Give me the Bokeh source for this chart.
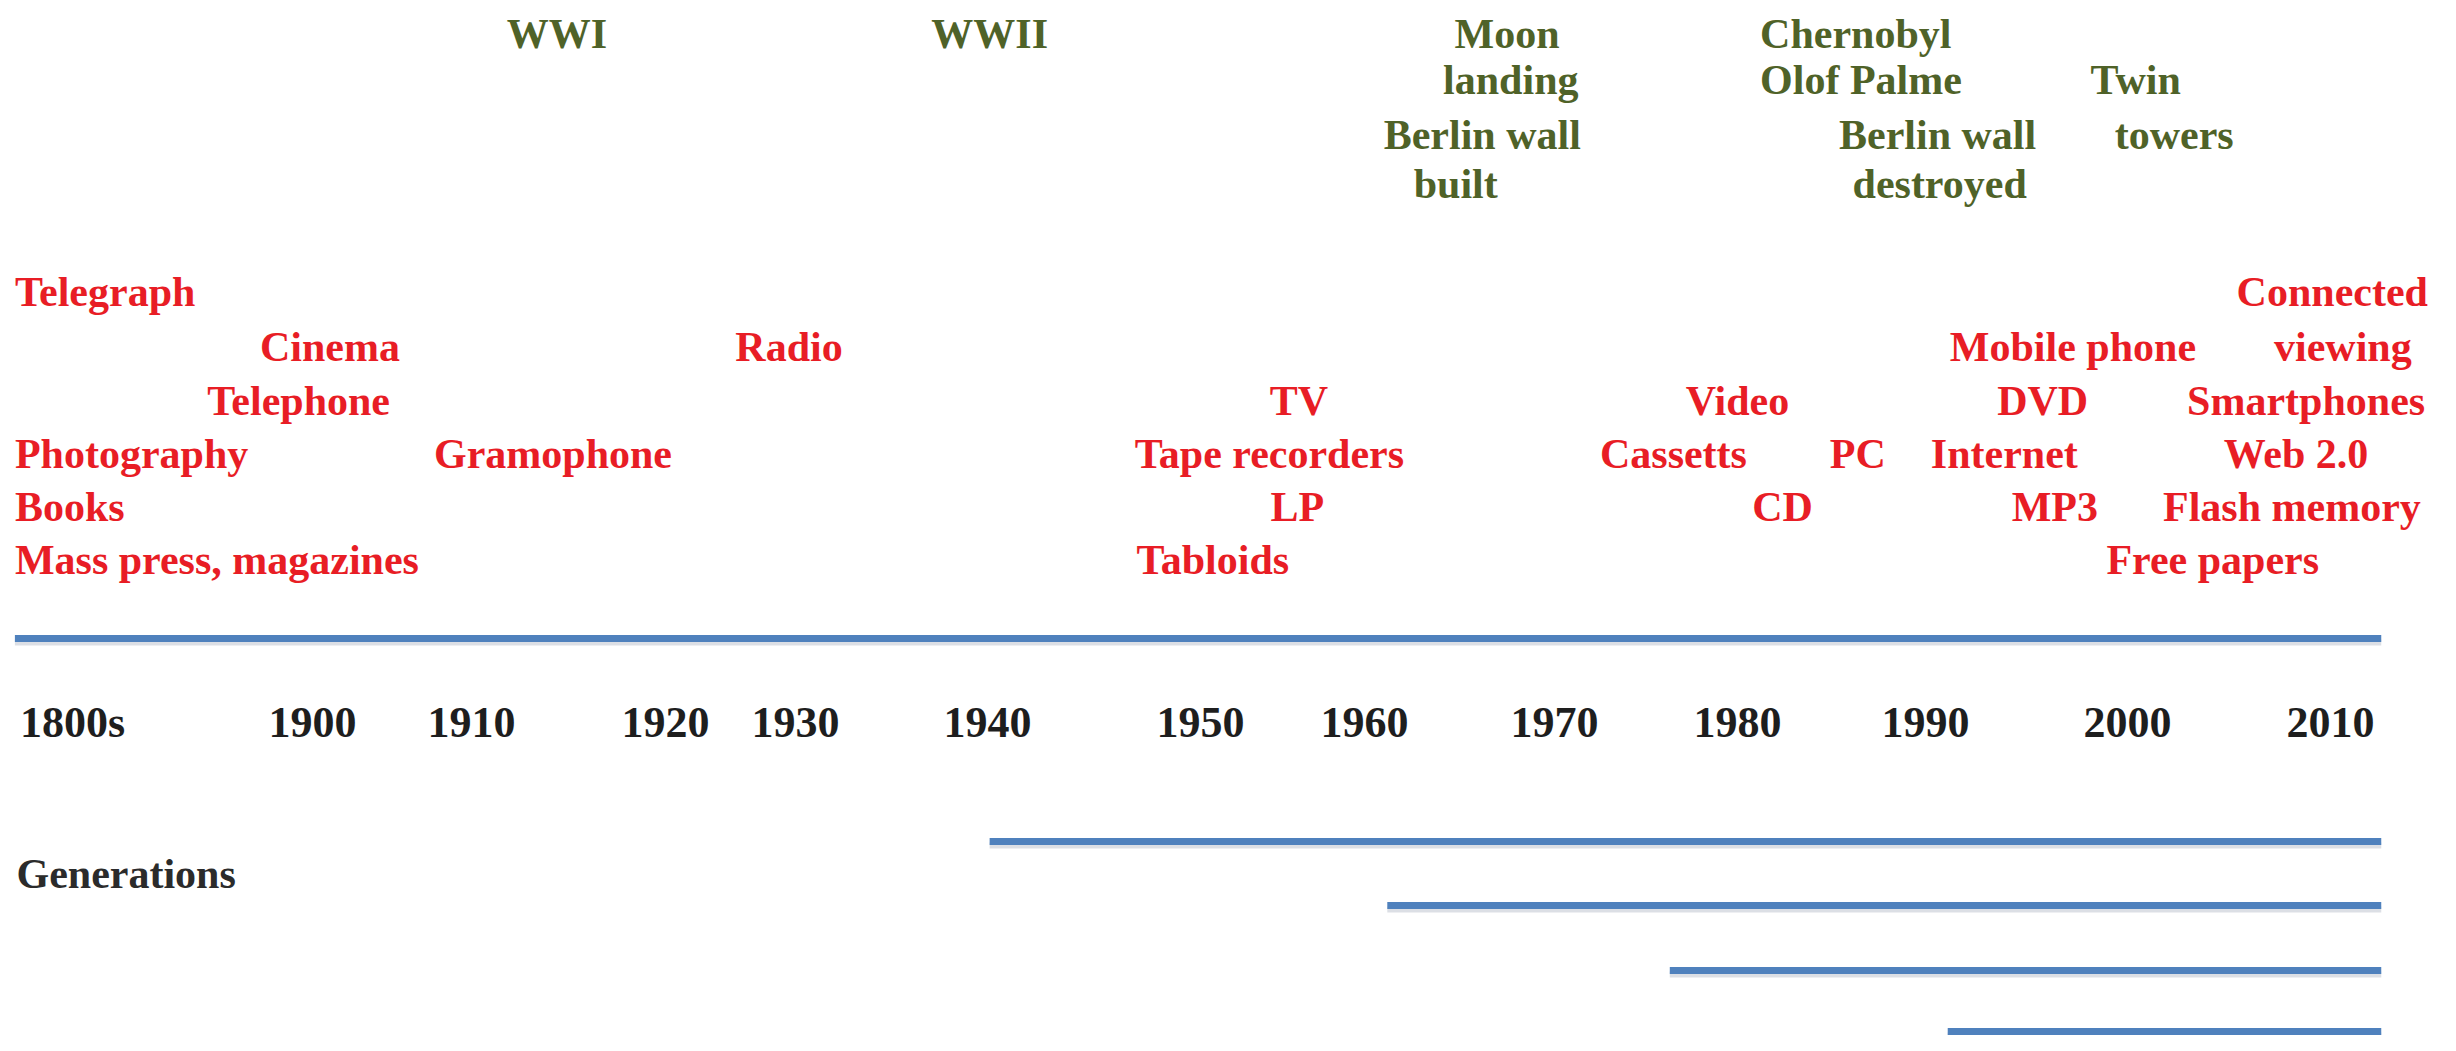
import numpy as np
from bokeh.plotting import figure
from bokeh.models import ColumnDataSource, Range1d
from bokeh.core.properties import value
from bokeh.embed import file_html
from bokeh.resources import INLINE

# ---------------- data ----------------
# Tick labels of the (non-uniform) timeline and the year each one marks
tick_labels = ["1800s", "1900", "1910", "1920", "1930", "1940", "1950",
               "1960", "1970", "1980", "1990", "2000", "2010"]
tick_years = [1850, 1900, 1910, 1920, 1930, 1940, 1950,
              1960, 1970, 1980, 1990, 2000, 2010]

# Media innovations (red), year, row counted from top
media_labels = ["Telegraph", "Connected",
                "Cinema", "Radio", "Mobile phone", "viewing",
                "Telephone", "TV", "Video", "DVD", "Smartphones",
                "Photography", "Gramophone", "Tape recorders", "Cassetts", "PC", "Internet", "Web 2.0",
                "Books", "LP", "CD", "MP3", "Flash memory",
                "Mass press, magazines", "Tabloids", "Free papers"]
media_years = [1838, 2014.8,
               1901.1, 1929.5, 1997.3, 2014.0,
               1897.1, 1956.0, 1980.0, 1995.8, 2008.8,
               1838, 1914.2, 1954.2, 1976.5, 1986.4, 1993.9, 2008.3,
               1838, 1955.9, 1982.4, 1996.4, 2008.1,
               1838, 1947.0, 2004.2]
media_rows = [0, 0,
              1, 1, 1, 1,
              2, 2, 2, 2, 2,
              3, 3, 3, 3, 3, 3, 3,
              4, 4, 4, 4, 4,
              5, 5, 5]
media_align = ["left", "right",
               "center", "center", "center", "right",
               "center", "center", "center", "center", "center",
               "left", "center", "center", "center", "center", "center", "center",
               "left", "center", "center", "center", "center",
               "left", "left", "center"]

# World events (green)
event_labels = ["WWI", "WWII", "Moon", "landing", "Berlin wall", "built",
                "Chernobyl", "Olof Palme", "Berlin wall", "destroyed", "Twin", "towers"]
event_years = [1914.4, 1940.1, 1967.5, 1967.7, 1966.2, 1964.8,
               1981.2, 1981.2, 1990.6, 1990.7, 2000.4, 2002.3]
event_rows = [0, 0, 0, 1, 2, 3,
              0, 1, 2, 3, 1, 2]
event_align = ["center", "center", "center", "center", "center", "center",
               "left", "left", "center", "center", "center", "center"]

timeline_start = 1838
timeline_end = 2012.5
generations_label = "Generations"
generation_starts = [1940.1, 1961.2, 1976.3, 1991.1]
generation_end = 2012.5

# ---------------- layout (screen px) ----------------
W, H = 2440, 1035
tick_px = [72, 312, 471, 665, 795, 987, 1200, 1364, 1554, 1737, 1925, 2127, 2330]
media_row_base = [291, 346, 400, 453, 506, 559]
event_row_base = [33, 79, 134, 183]
main_line_y = 638
tick_base = 722
gen_label_base = 873
gen_line_y = [841, 905, 970, 1031]

RED = "#E81D25"
GREEN = "#4F6228"
BLUE = "#4F81BD"
SHADOW = "#9AA3B5"
FONT = value("Liberation Serif")


def year_to_px(yr):
    yr = np.asarray(yr, dtype=float)
    slope_hi = (tick_px[-1] - tick_px[-2]) / (tick_years[-1] - tick_years[-2])
    slope_lo = (tick_px[1] - tick_px[0]) / (tick_years[1] - tick_years[0])
    out = np.interp(yr, tick_years, tick_px)
    out = np.where(yr > tick_years[-1], tick_px[-1] + (yr - tick_years[-1]) * slope_hi, out)
    out = np.where(yr < tick_years[0], tick_px[0] + (yr - tick_years[0]) * slope_lo, out)
    return out


p = figure(width=W, height=H, output_backend="svg", toolbar_location=None,
           x_range=Range1d(0, W), y_range=Range1d(H, 0),
           x_axis_type=None, y_axis_type=None, min_border=0,
           background_fill_color="white", border_fill_color="white")
p.outline_line_color = None
p.xgrid.visible = False
p.ygrid.visible = False

# main timeline + generation bars (with soft shadow)
x0 = [float(year_to_px(timeline_start))] + list(year_to_px(generation_starts))
x1 = [float(year_to_px(timeline_end))] + [float(year_to_px(generation_end))] * len(generation_starts)
ys = [main_line_y] + gen_line_y
p.segment(x0=x0, y0=[y + 4 for y in ys], x1=x1, y1=[y + 4 for y in ys],
          line_color=SHADOW, line_alpha=0.35, line_width=6)
p.segment(x0=x0, y0=ys, x1=x1, y1=ys, line_color=BLUE, line_width=7)


def add_texts(labels, years, rows, aligns, row_base, color, size):
    for al in ("left", "center", "right"):
        idx = [i for i, a in enumerate(aligns) if a == al]
        if not idx:
            continue
        src = ColumnDataSource(dict(
            x=year_to_px([years[i] for i in idx]),
            y=[row_base[rows[i]] for i in idx],
            t=[labels[i] for i in idx]))
        p.text(x="x", y="y", text="t", source=src, text_align=al,
               text_baseline="alphabetic", text_font=FONT, text_font_style="bold",
               text_font_size=size, text_color=color)


add_texts(media_labels, media_years, media_rows, media_align, media_row_base, RED, "42px")
add_texts(event_labels, event_years, event_rows, event_align, event_row_base, GREEN, "42px")

# tick labels of the timeline
tsrc = ColumnDataSource(dict(x=year_to_px(tick_years), y=[tick_base] * len(tick_years), t=tick_labels))
p.text(x="x", y="y", text="t", source=tsrc, text_align="center", text_baseline="alphabetic",
       text_font=FONT, text_font_style="bold", text_font_size="44px", text_color="#1E1E1E")

# Generations label
p.text(x=[16], y=[gen_label_base], text=[generations_label], text_align="left",
       text_baseline="alphabetic", text_font=FONT, text_font_style="bold",
       text_font_size="42px", text_color="#2B2B2B")

open("out.html", "w").write(file_html(p, INLINE))
